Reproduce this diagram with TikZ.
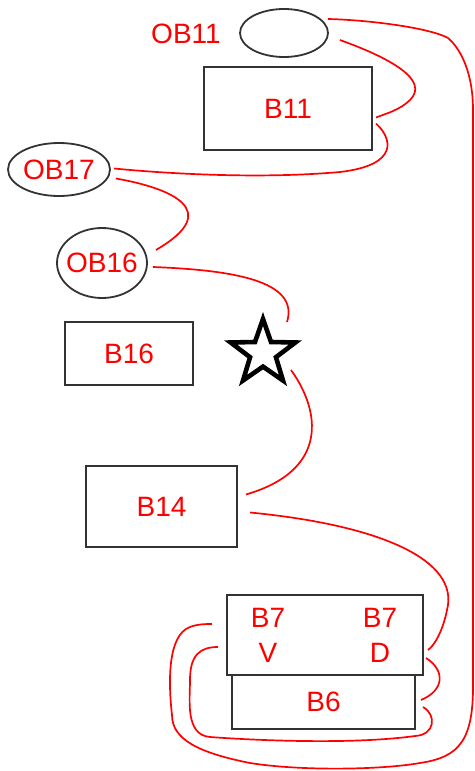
\documentclass[tikz,border=0pt]{standalone}
\usepackage{fontspec}
\setmainfont{Liberation Sans}
\usepackage{tikz}
\usetikzlibrary{shapes, positioning}

\tikzset{
  block/.style={draw=black!80, line width=1pt, rectangle, inner sep=0pt, text=red},
  oval/.style={draw=black!80, line width=0.9pt, ellipse, inner sep=0pt},
  every label/.style={text=red},
  link/.style={draw=red, line width=0.85pt},
}

\begin{document}
\begin{tikzpicture}[x=0.5pt, y=-0.5pt, font=\fontsize{14}{17.5}\selectfont]
    \useasboundingbox (0,0) rectangle (475,771);

    \node[text=red] (ob11lbl) at (186,34) {OB11};
    \node[oval, minimum width=44pt, minimum height=24pt] (ob11) at (284,33) {};
    \node[block, minimum width=84pt, minimum height=41.5pt] (b11) at (288,108.5) {B11};
    \node[oval, minimum width=51pt, minimum height=26.5pt, label={center:OB17}] (ob17) at (59,169.5) {};
    \node[oval, minimum width=45pt, minimum height=35pt, label={center:OB16}] (ob16) at (102,263) {};
    \node[block, minimum width=64pt, minimum height=31.5pt] (b16) at (129,353.5) {B16};
    \node[star, star points=5, star point ratio=2.5, minimum size=34pt, inner sep=0pt,
          draw=black, fill=white, line width=2.3pt] (star) at (263,353) {};
    \node[block, minimum width=75.5pt, minimum height=40.5pt] (b14) at (161.5,506.5) {B14};
    \node[block, minimum width=91.5pt, minimum height=27pt] (b6) at (323.5,702) {B6};
    \node[block, minimum width=98pt, minimum height=40pt, fill=white] (b7) at (325,635) {};
    \node[text=red, align=center] (b7v) at (268,635) {B7\\V};
    \node[text=red, align=center] (b7d) at (380,635) {B7\\D};

    \draw[link] ([shift={(11,7)}]ob11.east) .. controls (390,58) and (430,80) .. (410,100)
        .. controls (400,110) and (385,114) .. ([shift={(3,9)}]b11.east);
    \draw[link] ([shift={(3,15)}]b11.east) .. controls (392,138) and (400,165) .. (340,172)
        .. controls (250,180) and (150,172) .. ([shift={(3,-1)}]ob17.east);
    \draw[link] ([shift={(5,9)}]ob17.east) .. controls (170,188) and (225,210) .. ([shift={(8,-13)}]ob16.east);
    \draw[link] ([shift={(5,4)}]ob16.east) .. controls (230,270) and (300,280) .. ([shift={(24,-31)}]star.center);
    \draw[link] ([shift={(28,17)}]star.center) .. controls (320,410) and (330,470) .. ([shift={(8,-12)}]b14.east);
    \draw[link] ([shift={(12,6)}]b14.east) .. controls (380,525) and (460,560) .. (447,610)
        .. controls (443,630) and (435,645) .. ([shift={(4,15)}]b7.east);
    \draw[link] ([shift={(2,-18)}]b7.south east) .. controls (445,670) and (445,690) .. ([shift={(5,-2)}]b6.east);
    \draw[link] ([shift={(7,5)}]b6.east) .. controls (437,715) and (435,735) .. (415,736)
        .. controls (350,745) and (250,740) .. (210,737)
        .. controls (185,735) and (190,700) .. (190,680)
        .. controls (190,655) and (200,647) .. ([shift={(-8,12)}]b7.west);
    \draw[link] ([shift={(-1,-14)}]ob11.east) .. controls (370,20) and (430,28) .. (448,38)
        .. controls (462,50) and (473,75) .. (473,110) -- (473,680)
        .. controls (474,740) and (460,757) .. (420,763)
        .. controls (380,770) and (300,771) .. (250,763)
        .. controls (200,753) and (172,740) .. (172,715)
        .. controls (168,680) and (168,635) .. (190,627)
        .. controls (198,624) and (205,624) .. ([shift={(-14,-11)}]b7.west);
\end{tikzpicture}
\end{document}
